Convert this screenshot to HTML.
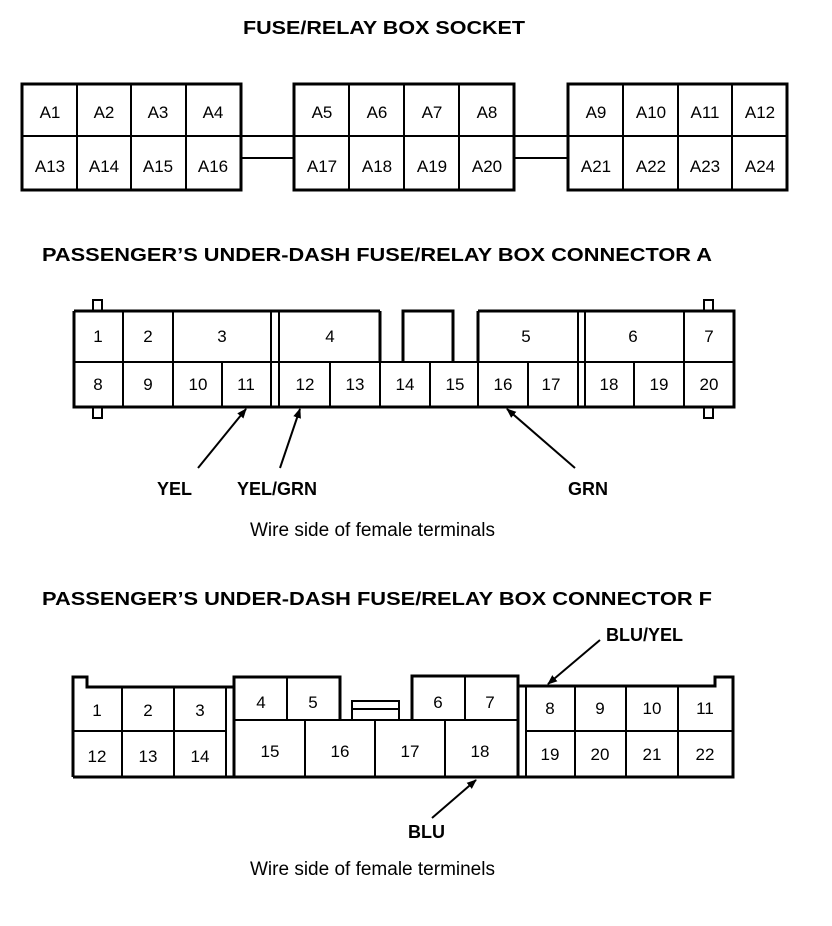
<!DOCTYPE html>
<html><head><meta charset="utf-8"><style>
html,body{margin:0;padding:0;background:#fff;}
svg{display:block;}
text{font-family:"Liberation Sans",Arial,sans-serif;fill:#000;}
.b{font-weight:bold;font-size:18px;}
.n{font-size:17px;text-anchor:middle;}
</style></head><body>
<svg width="832" height="926" viewBox="0 0 832 926" xmlns="http://www.w3.org/2000/svg">
<defs><marker id="ah" markerWidth="10" markerHeight="8" refX="9" refY="4" orient="auto" markerUnits="userSpaceOnUse"><path d="M0,0 L10,4 L0,8 Z" fill="#000"/></marker></defs>
<g stroke="#000" fill="none">
<!-- socket -->
<g stroke-width="3">
<rect x="22" y="84" width="219" height="106"/>
<rect x="294" y="84" width="220" height="106"/>
<rect x="568" y="84" width="219" height="106"/>
</g>
<g stroke-width="2">
<line x1="22" y1="136" x2="787" y2="136"/>
<line x1="241" y1="158" x2="294" y2="158"/>
<line x1="514" y1="158" x2="568" y2="158"/>
<line x1="77" y1="84" x2="77" y2="190"/><line x1="131" y1="84" x2="131" y2="190"/><line x1="186" y1="84" x2="186" y2="190"/>
<line x1="349" y1="84" x2="349" y2="190"/><line x1="404" y1="84" x2="404" y2="190"/><line x1="459" y1="84" x2="459" y2="190"/>
<line x1="623" y1="84" x2="623" y2="190"/><line x1="678" y1="84" x2="678" y2="190"/><line x1="732" y1="84" x2="732" y2="190"/>
</g>
<!-- connector A -->
<g stroke-width="3">
<path d="M74,311 H380 M478,311 H734 V407 H74 V311"/>
<path d="M403,362 V311 H453 V362"/>
<rect x="93" y="300" width="9" height="11" stroke-width="2"/>
<rect x="93" y="407" width="9" height="11" stroke-width="2"/>
<rect x="704" y="300" width="9" height="11" stroke-width="2"/>
<rect x="704" y="407" width="9" height="11" stroke-width="2"/>
<path d="M380,311 V362 M478,311 V362"/>
</g>
<g stroke-width="2">
<line x1="74" y1="362" x2="734" y2="362"/>
<line x1="271" y1="311" x2="271" y2="407"/><line x1="279" y1="311" x2="279" y2="407"/>
<line x1="578" y1="311" x2="578" y2="407"/><line x1="585" y1="311" x2="585" y2="407"/>
<line x1="123" y1="311" x2="123" y2="407"/><line x1="173" y1="311" x2="173" y2="407"/>
<line x1="222" y1="362" x2="222" y2="407"/><line x1="330" y1="362" x2="330" y2="407"/>
<line x1="380" y1="362" x2="380" y2="407"/><line x1="430" y1="362" x2="430" y2="407"/>
<line x1="478" y1="362" x2="478" y2="407"/><line x1="528" y1="362" x2="528" y2="407"/>
<line x1="634" y1="362" x2="634" y2="407"/><line x1="684" y1="311" x2="684" y2="407"/>
</g>
<g stroke-width="2" marker-end="url(#ah)">
<line x1="198" y1="468" x2="246" y2="409"/>
<line x1="280" y1="468" x2="300" y2="409"/>
<line x1="575" y1="468" x2="507" y2="409"/>
</g>
<!-- connector F -->
<g stroke-width="3">
<path d="M73,777 V677 H87 V687 H234 V677 H340 V720 M412,720 V676 H518 V686 H715 V677 H733 V777 H73"/>
<path d="M234,687 V777 M518,686 V777"/>
</g>
<g stroke-width="2">
<rect x="352" y="701" width="47" height="19"/>
<line x1="352" y1="709" x2="399" y2="709"/>
<line x1="73" y1="731" x2="226" y2="731"/>
<line x1="234" y1="720" x2="518" y2="720"/>
<line x1="526" y1="731" x2="733" y2="731"/>
<line x1="226" y1="687" x2="226" y2="777"/><line x1="526" y1="686" x2="526" y2="777"/>
<line x1="122" y1="687" x2="122" y2="777"/><line x1="174" y1="687" x2="174" y2="777"/>
<line x1="287" y1="677" x2="287" y2="720"/><line x1="465" y1="676" x2="465" y2="720"/>
<line x1="305" y1="720" x2="305" y2="777"/><line x1="375" y1="720" x2="375" y2="777"/><line x1="445" y1="720" x2="445" y2="777"/>
<line x1="575" y1="686" x2="575" y2="777"/><line x1="626" y1="686" x2="626" y2="777"/><line x1="678" y1="686" x2="678" y2="777"/>
</g>
<g stroke-width="2" marker-end="url(#ah)">
<line x1="600" y1="640" x2="548" y2="684"/>
<line x1="432" y1="818" x2="476" y2="780"/>
</g>
</g>
<text class="b" x="243" y="34" textLength="282" lengthAdjust="spacingAndGlyphs">FUSE/RELAY BOX SOCKET</text>
<text class="b" x="42" y="261" textLength="670" lengthAdjust="spacingAndGlyphs">PASSENGER’S UNDER-DASH FUSE/RELAY BOX CONNECTOR A</text>
<text class="b" x="42" y="605" textLength="670" lengthAdjust="spacingAndGlyphs">PASSENGER’S UNDER-DASH FUSE/RELAY BOX CONNECTOR F</text>
<g class="n">
<text x="50" y="118">A1</text><text x="104" y="118">A2</text><text x="158" y="118">A3</text><text x="213" y="118">A4</text>
<text x="50" y="172">A13</text><text x="104" y="172">A14</text><text x="158" y="172">A15</text><text x="213" y="172">A16</text>
<text x="322" y="118">A5</text><text x="377" y="118">A6</text><text x="432" y="118">A7</text><text x="487" y="118">A8</text>
<text x="322" y="172">A17</text><text x="377" y="172">A18</text><text x="432" y="172">A19</text><text x="487" y="172">A20</text>
<text x="596" y="118">A9</text><text x="651" y="118">A10</text><text x="705" y="118">A11</text><text x="760" y="118">A12</text>
<text x="596" y="172">A21</text><text x="651" y="172">A22</text><text x="705" y="172">A23</text><text x="760" y="172">A24</text>

<text x="98" y="342">1</text><text x="148" y="342">2</text><text x="222" y="342">3</text><text x="330" y="342">4</text>
<text x="526" y="342">5</text><text x="633" y="342">6</text><text x="709" y="342">7</text>
<text x="98" y="390">8</text><text x="148" y="390">9</text><text x="198" y="390">10</text><text x="246" y="390">11</text>
<text x="305" y="390">12</text><text x="355" y="390">13</text><text x="405" y="390">14</text><text x="455" y="390">15</text>
<text x="503" y="390">16</text><text x="551" y="390">17</text><text x="609" y="390">18</text><text x="659" y="390">19</text><text x="709" y="390">20</text>

<text x="97" y="716">1</text><text x="148" y="716">2</text><text x="200" y="716">3</text>
<text x="261" y="708">4</text><text x="313" y="708">5</text><text x="438" y="708">6</text><text x="490" y="708">7</text>
<text x="550" y="714">8</text><text x="600" y="714">9</text><text x="652" y="714">10</text><text x="705" y="714">11</text>
<text x="97" y="762">12</text><text x="148" y="762">13</text><text x="200" y="762">14</text>
<text x="270" y="757">15</text><text x="340" y="757">16</text><text x="410" y="757">17</text><text x="480" y="757">18</text>
<text x="550" y="760">19</text><text x="600" y="760">20</text><text x="652" y="760">21</text><text x="705" y="760">22</text>
</g>
<text class="b" x="157" y="495">YEL</text>
<text class="b" x="237" y="495">YEL/GRN</text>
<text class="b" x="568" y="495">GRN</text>
<text class="b" x="606" y="641">BLU/YEL</text>
<text class="b" x="408" y="838">BLU</text>
<text x="250" y="536" style="font-size:19px">Wire side of female terminals</text>
<text x="250" y="875" style="font-size:19px">Wire side of female terminels</text>
</svg>
</body></html>
